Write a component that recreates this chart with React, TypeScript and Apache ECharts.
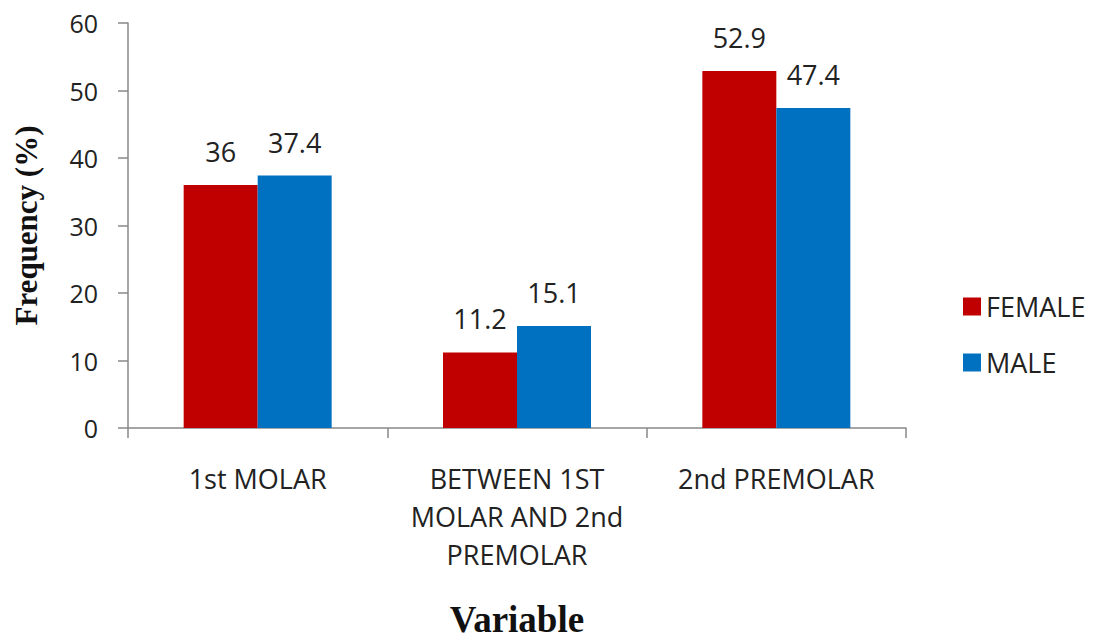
import React, { useEffect, useRef } from "react";
import * as echarts from "echarts";

const categories = ["1st MOLAR", "BETWEEN 1ST\nMOLAR AND 2nd\nPREMOLAR", "2nd PREMOLAR"];
const femaleValues = [36, 11.2, 52.9];
const maleValues = [37.4, 15.1, 47.4];
const seriesNames = ["FEMALE", "MALE"];

const FONT = "'Open Sans', sans-serif";
const SERIF = "'Liberation Serif', 'Times New Roman', serif";

export default function App() {
  const ref = useRef<HTMLDivElement>(null);
  useEffect(() => {
    document.body.style.margin = "0";
    const chart = echarts.init(ref.current!, null, { renderer: "svg" });
    const labelStyle = {
      show: true,
      position: "top" as const,
      distance: 20,
      fontFamily: FONT,
      fontSize: 27,
      color: "#222",
    };
    chart.setOption({
      animation: false,
      backgroundColor: "#fff",
      grid: { left: 128, right: 187, top: 23, bottom: 213, containLabel: false, outerBoundsMode: "none" },
      legend: {
        orient: "vertical",
        left: 958,
        top: 288,
        itemWidth: 18,
        itemHeight: 18,
        itemGap: 29,
        icon: "rect",
        textStyle: { fontFamily: FONT, fontSize: 27, color: "#222" },
        data: seriesNames,
      },
      xAxis: {
        type: "category",
        data: categories,
        name: "Variable",
        nameLocation: "middle",
        nameGap: 172,
        nameTextStyle: { fontFamily: SERIF, fontWeight: "bold", fontSize: 37, color: "#111", lineHeight: 38 },
        axisLine: { lineStyle: { color: "#888", width: 1.5 } },
        axisTick: { show: true, length: 10, lineStyle: { color: "#888", width: 1.5 } },
        axisLabel: { interval: 0, hideOverlap: false, fontFamily: FONT, fontSize: 27, color: "#222", margin: 31, lineHeight: 38 },
      },
      yAxis: {
        type: "value",
        min: 0,
        max: 60,
        interval: 10,
        name: "Frequency (%)",
        nameLocation: "middle",
        nameGap: 86,
        nameTextStyle: { fontFamily: SERIF, fontWeight: "bold", fontSize: 31, color: "#111" },
        axisLine: { show: true, lineStyle: { color: "#888", width: 1.5 } },
        axisTick: { show: true, length: 10, lineStyle: { color: "#888", width: 1.5 } },
        splitLine: { show: false },
        axisLabel: { fontFamily: FONT, fontSize: 25, color: "#222", margin: 30 },
      },
      series: [
        {
          name: seriesNames[0],
          type: "bar",
          data: femaleValues,
          barWidth: 74,
          barGap: "0%",
          itemStyle: { color: "#C00000" },
          label: labelStyle,
        },
        {
          name: seriesNames[1],
          type: "bar",
          data: maleValues,
          barWidth: 74,
          barGap: "0%",
          itemStyle: { color: "#0070C0" },
          label: labelStyle,
        },
      ],
    });
    return () => chart.dispose();
  }, []);
  return <div ref={ref} style={{ width: 1093, height: 641 }} />;
}
